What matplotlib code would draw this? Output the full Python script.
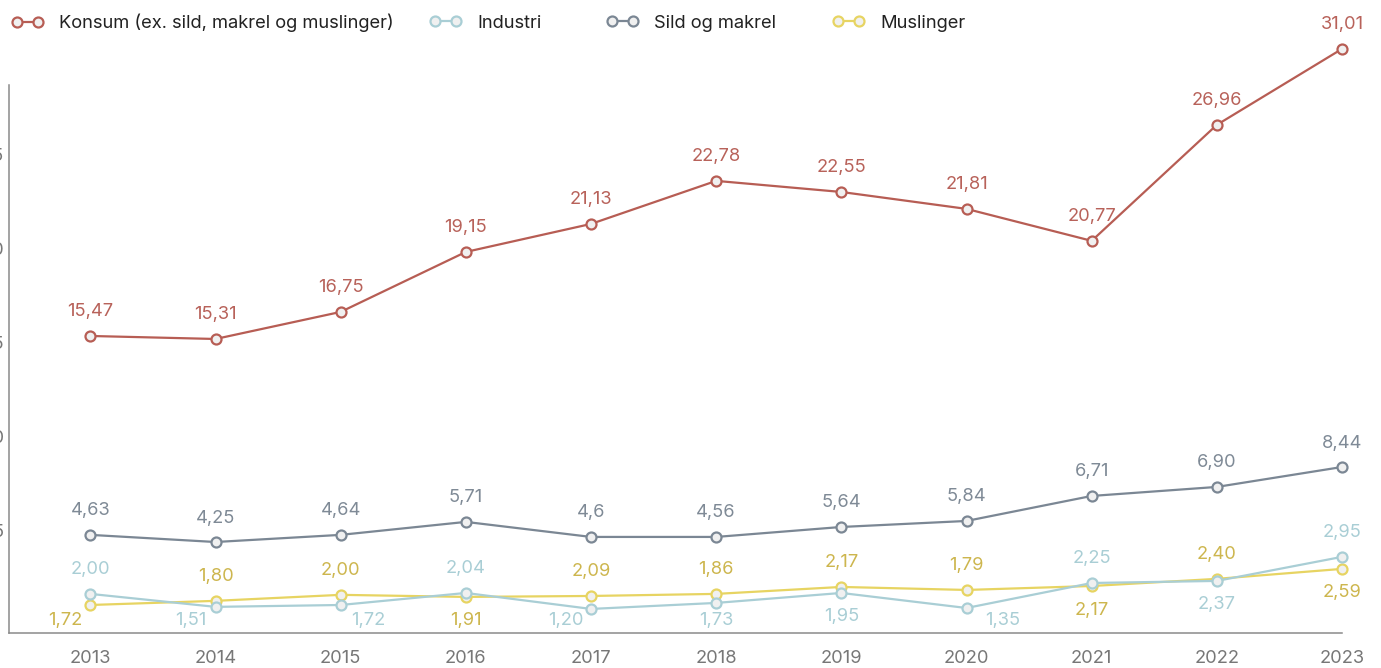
import matplotlib
matplotlib.use("Agg")
import matplotlib.pyplot as plt

plt.rcParams['font.family'] = ['Inter', 'DejaVu Sans']

years = [2013, 2014, 2015, 2016, 2017, 2018, 2019, 2020, 2021, 2022, 2023]

# plotted positions and the printed labels
konsum = [15.37, 15.21, 16.65, 19.84, 21.33, 23.62, 23.03, 22.13, 20.43, 26.60, 30.64]
konsum_labels = ["15,47", "15,31", "16,75", "19,15", "21,13", "22,78", "22,55", "21,81", "20,77", "26,96", "31,01"]
industri = [1.65, 0.96, 1.06, 1.70, 0.85, 1.17, 1.70, 0.90, 2.23, 2.34, 3.62]
industri_labels = ["2,00", "1,51", "1,72", "2,04", "1,20", "1,73", "1,95", "1,35", "2,25", "2,37", "2,95"]
sild = [4.79, 4.41, 4.79, 5.48, 4.68, 4.68, 5.21, 5.53, 6.86, 7.34, 8.40]
sild_labels = ["4,63", "4,25", "4,64", "5,71", "4,6", "4,56", "5,64", "5,84", "6,71", "6,90", "8,44"]
muslinger = [1.06, 1.28, 1.60, 1.49, 1.54, 1.65, 2.02, 1.86, 2.07, 2.45, 2.98]
muslinger_labels = ["1,72", "1,80", "2,00", "1,91", "2,09", "1,86", "2,17", "1,79", "2,17", "2,40", "2,59"]

# label placement: a=above, b=below, bl/br=below shifted left/right
industri_place = ["a", "bl", "br", "a", "bl", "b", "b", "brr", "a", "b", "a"]
muslinger_place = ["bl", "a", "a", "b", "a", "a", "a", "a", "b", "a", "b"]

RED, TEAL, GREY, YELLOW = "#b75d54", "#a9ced5", "#7b8794", "#e7d462"
RED_T, TEAL_T, GREY_T, YELLOW_T = "#b8625a", "#a9ced5", "#7f8a96", "#cdb64e"

W, H = 1381, 668
PT = 72 / 100  # points per pixel
fig = plt.figure(figsize=(W / 100, H / 100), dpi=100)
ax = fig.add_axes([9 / W, (H - 633) / H, (1342 - 9) / W, (633 - 85) / H])

series = [
    ("Konsum (ex. sild, makrel og muslinger)", konsum, konsum_labels, RED, RED_T, None, 4),
    ("Industri", industri, industri_labels, TEAL, TEAL_T, industri_place, 3),
    ("Sild og makrel", sild, sild_labels, GREY, GREY_T, None, 4),
    ("Muslinger", muslinger, muslinger_labels, YELLOW, YELLOW_T, muslinger_place, 2),
]

ax.set_xlim(2012.35, 2023)
ax.set_ylim(-0.43, 28.72)

# pixel offsets of labels
dx_px = {"a": 0, "b": 0, "bl": -25, "br": 28, "brr": 36}
low_px = H - 620  # labels below never go lower than this

handles = []
for name, vals, labels, col, tcol, place, z in series:
    h, = ax.plot(years, vals, color=col, lw=1.6, marker="o", ms=7.2, mew=1.6,
                 mfc="#f0f0f0", mec=col, label=name, zorder=z, clip_on=False)
    handles.append(h)
    for i, (x, y) in enumerate(zip(years, vals)):
        p = place[i] if place else "a"
        ypx = ax.transData.transform((x, y))[1]
        if p == "a":
            dy = 24
        else:
            dy = max(ypx - 24, low_px) - ypx
        ax.annotate(labels[i], (x, y), xytext=(dx_px[p] * PT, dy * PT),
                    textcoords="offset points", ha="center", va="center",
                    fontsize=13.2, color=tcol, annotation_clip=False, zorder=6)

ax.set_xticks(years)
ax.set_yticks([5, 10, 15, 20, 25])
ax.tick_params(length=0, colors="#777777", labelsize=13.2)
ax.tick_params(axis="x", pad=12)
ax.tick_params(axis="y", pad=3.6)
for s in ["top", "right"]:
    ax.spines[s].set_visible(False)
for s in ["left", "bottom"]:
    ax.spines[s].set_color("#8a8a8a")
    ax.spines[s].set_linewidth(1.1)

# legend entries along the top
leg_x = [6, 424, 601, 827]
for h, x in zip(handles, leg_x):
    leg = fig.legend([h], [h.get_label()], loc="center left",
                     bbox_to_anchor=(x / W, 1 - 23 / H), numpoints=2, frameon=False,
                     fontsize=13.2, handlelength=1.75, handletextpad=0.85,
                     borderaxespad=0, borderpad=0.3)
    leg.get_texts()[0].set_color("#222222")

fig.savefig("out.png", dpi=100, facecolor="white")
